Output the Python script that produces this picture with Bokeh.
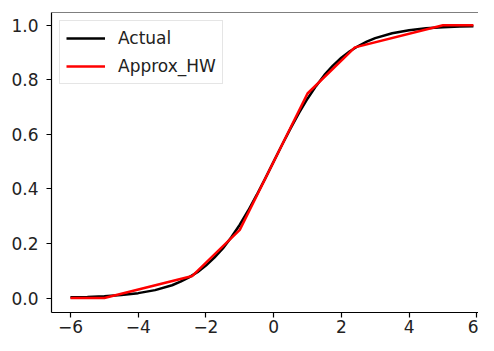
from bokeh.plotting import figure
from bokeh.models import Range1d, FixedTicker, CustomJSTickFormatter, Span, Legend, LegendItem
from bokeh.embed import file_html
from bokeh.resources import INLINE

# Actual curve
actual_x = [-6, -5.5, -5, -4.5, -4, -3.5, -3, -2.75, -2.5, -2.25, -2, -1.75, -1.5, -1.25, -1,
            -0.75, -0.5, -0.25, 0, 0.25, 0.5, 0.75, 1, 1.25, 1.5, 1.75, 2, 2.25, 2.5, 2.75,
            3, 3.5, 4, 4.5, 5, 5.5, 5.9]
actual_y = [0.0025, 0.004, 0.007, 0.011, 0.018, 0.029, 0.047, 0.060, 0.076, 0.095, 0.119,
            0.148, 0.182, 0.223, 0.269, 0.321, 0.378, 0.438, 0.5, 0.562, 0.622, 0.679,
            0.731, 0.777, 0.818, 0.852, 0.881, 0.905, 0.924, 0.940, 0.953, 0.971, 0.982,
            0.989, 0.993, 0.996, 0.997]

# Approx_HW piecewise linear curve
approx_x = [-6, -5, -2.4, -1, 0, 1, 2.4, 5, 5.9]
approx_y = [0.0, 0.0, 0.081, 0.25, 0.5, 0.75, 0.919, 1.0, 1.0]

x_ticks = [-6, -4, -2, 0, 2, 4, 6]
y_ticks = [0.0, 0.2, 0.4, 0.6, 0.8, 1.0]

FONT = "DejaVu Sans"
FS = "17px"
Y_TOP = 1.047

p = figure(width=478, height=335, output_backend="svg", toolbar_location=None,
           x_range=Range1d(-6.56, 6.05), y_range=Range1d(-0.053, Y_TOP),
           min_border_left=51, min_border_top=12, min_border_right=0, min_border_bottom=0)
p.outline_line_color = None
p.xgrid.visible = False
p.ygrid.visible = False
p.background_fill_color = "white"
p.border_fill_color = "white"

r1 = p.line(actual_x, actual_y, line_color="black", line_width=2.5)
r2 = p.line(approx_x, approx_y, line_color="#ff0000", line_width=2.5)

for ax in (p.xaxis[0], p.yaxis[0]):
    ax.axis_line_color = "black"
    ax.axis_line_width = 1.2
    ax.major_tick_line_color = "black"
    ax.major_tick_line_width = 1.2
    ax.major_tick_in = 0
    ax.major_tick_out = 5
    ax.minor_tick_line_color = None
    ax.major_label_text_font = FONT
    ax.major_label_text_font_size = FS
    ax.major_label_text_color = "#222222"

p.xaxis[0].ticker = FixedTicker(ticks=x_ticks)
p.yaxis[0].ticker = FixedTicker(ticks=y_ticks)
p.xaxis[0].major_label_standoff = 2
p.yaxis[0].major_label_standoff = 8
p.xaxis[0].formatter = CustomJSTickFormatter(code="return tick < 0 ? '\u2212' + Math.abs(tick) : tick.toString();")
p.yaxis[0].formatter = CustomJSTickFormatter(code="return tick.toFixed(1);")

top_spine = Span(location=Y_TOP, dimension="width", line_color="black", line_width=1.2)
p.add_layout(top_spine)

legend = Legend(items=[LegendItem(label="Actual", renderers=[r1]),
                       LegendItem(label="Approx_HW", renderers=[r2])],
                location="top_left")
legend.margin = 8
legend.padding = 6
legend.spacing = 6
legend.glyph_width = 39
legend.glyph_height = 22
legend.label_height = 22
legend.label_standoff = 13
legend.label_text_font = FONT
legend.label_text_font_size = FS
legend.label_text_color = "#222222"
legend.border_line_color = "#cccccc"
legend.border_line_width = 1
legend.background_fill_alpha = 0.8
p.add_layout(legend)

open("out.html", "w").write(file_html(p, INLINE))
